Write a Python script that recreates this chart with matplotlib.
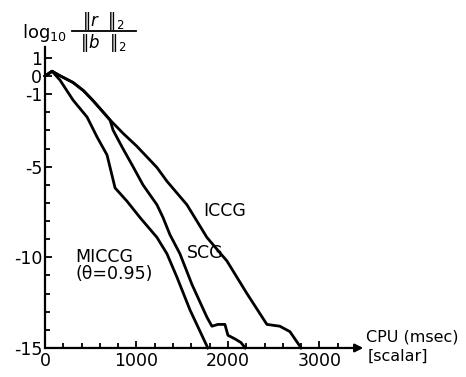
import numpy as np
import matplotlib
matplotlib.use('Agg')
import matplotlib.pyplot as plt
from matplotlib.lines import Line2D

plt.rcParams['font.family'] = ['DejaVu Sans']
plt.rcParams['mathtext.fontset'] = 'dejavusans'
plt.rcParams['axes.unicode_minus'] = False

# CPU time (msec) vs log10 residual ratio
iccg_x = [0, 77, 164, 306, 420, 525, 711, 852, 1000, 1115, 1225, 1333, 1552, 1770, 1989, 2208, 2426, 2568, 2678, 2800]
iccg_y = [0, 0.27, 0.02, -0.35, -0.8, -1.35, -2.42, -3.15, -3.85, -4.46, -5.05, -5.8, -7.1, -8.9, -10.2, -12.0, -13.7, -13.8, -14.1, -15]

scg_x = [0, 77, 164, 306, 420, 525, 711, 744, 852, 963, 1071, 1224, 1290, 1366, 1475, 1607, 1770, 1825, 1891, 1967, 2000, 2077, 2142, 2190]
scg_y = [0, 0.27, 0.02, -0.35, -0.8, -1.35, -2.42, -2.98, -4.0, -5.0, -6.0, -7.1, -7.8, -8.75, -9.8, -11.5, -13.3, -13.8, -13.7, -13.7, -14.3, -14.5, -14.7, -15]

miccg_x = [0, 77, 164, 306, 460, 569, 678, 766, 896, 1038, 1224, 1333, 1443, 1585, 1780]
miccg_y = [0, 0.27, -0.22, -1.32, -2.26, -3.36, -4.35, -6.17, -6.9, -7.8, -8.9, -9.8, -11.1, -12.9, -15]

y_labeled = [1, 0, -1, -5, -10, -15]
x_labeled = [0, 1000, 2000, 3000]

fig = plt.figure(figsize=(4.66, 3.77), dpi=100)
ax = fig.add_axes([0.0966, 0.077, 0.683, 0.798])

for xs, ys in [(iccg_x, iccg_y), (scg_x, scg_y), (miccg_x, miccg_y)]:
    ax.plot(xs, ys, color='black', lw=2.0, solid_joinstyle='round', clip_on=False)

ax.set_xlim(0, 3480)
ax.set_ylim(-15, 1.6)
ax.spines['top'].set_visible(False)
ax.spines['right'].set_visible(False)
ax.spines['bottom'].set_visible(False)
ax.spines['left'].set_linewidth(1.6)

# x axis drawn as an arrow
ax.annotate('', xy=(1.0, 0), xytext=(0, 0), xycoords='axes fraction',
            arrowprops=dict(arrowstyle='-|>', color='black', lw=1.6,
                            mutation_scale=12, shrinkA=0, shrinkB=0))

ax.set_yticks(y_labeled)
ax.set_yticklabels([str(v) for v in y_labeled])
ax.set_yticks(np.arange(-15, 2, 1), minor=True)
ax.set_xticks(x_labeled)
ax.set_xticklabels([str(v) for v in x_labeled])
ax.set_xticks(np.arange(0, 3400, 200), minor=True)
ax.tick_params(which='both', direction='in', width=1.3, labelsize=12.5)
ax.tick_params(which='major', length=5)
ax.tick_params(which='minor', length=3.5)
ax.tick_params(axis='y', pad=2)
ax.tick_params(axis='x', pad=3)

ax.text(1729, -7.44, 'ICCG', fontsize=12.5, ha='left', va='center')
ax.text(1553, -9.76, 'SCG', fontsize=12.5, ha='left', va='center')
ax.text(328, -10.45, 'MICCG\n(\u03b8=0.95)', fontsize=12.5, ha='left', va='center', linespacing=0.95)

fig.text(366 / 466, 1 - 337 / 377, 'CPU (msec)', fontsize=11.5, ha='left', va='center')
fig.text(368 / 466, 1 - 356 / 377, '[scalar]', fontsize=11.5, ha='left', va='center')

# y label: log10 ||r||2 / ||b||2
fig.text(22 / 466, 1 - 33 / 377, r'$\log_{10}$', fontsize=13, ha='left', va='center')
fig.text(103 / 466, 1 - 21 / 377, r'$\Vert r\ \ \Vert_2$', fontsize=12, ha='center', va='center')
fig.text(103 / 466, 1 - 43 / 377, r'$\Vert b\ \ \Vert_2$', fontsize=12, ha='center', va='center')
fig.add_artist(Line2D([72 / 466, 136 / 466], [1 - 31 / 377, 1 - 31 / 377], color='black', lw=1.3))

fig.savefig('out.png', dpi=100)
